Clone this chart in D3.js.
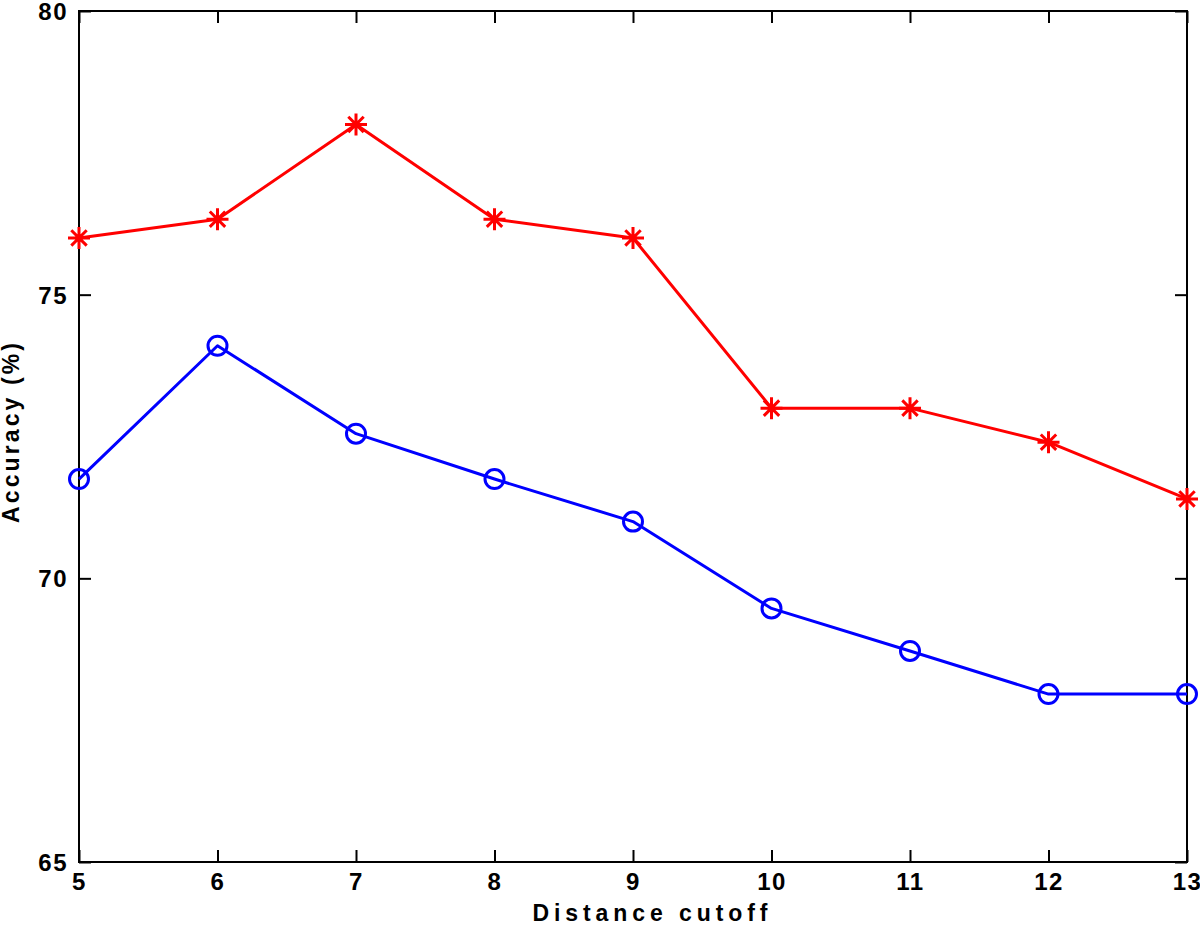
<!DOCTYPE html>
<html>
<head>
<meta charset="utf-8">
<script src="https://d3js.org/d3.v7.min.js"></script>
<style>
  html, body { margin: 0; padding: 0; background: #fff; }
  svg text { font-family: "Liberation Sans", Arial, sans-serif; font-weight: bold; fill: #000; }
</style>
</head>
<body>
<svg id="chart" width="1200" height="925"></svg>
<script>
const cutoffs = [5, 6, 7, 8, 9, 10, 11, 12, 13];
const redSeries = [76.0, 76.33, 78.0, 76.33, 76.0, 73.0, 73.0, 72.4, 71.4];
const blueSeries = [71.75, 74.1, 72.55, 71.75, 71.0, 69.47, 68.72, 67.96, 67.96];
const xTicks = [5, 6, 7, 8, 9, 10, 11, 12, 13];
const yTicks = [65, 70, 75, 80];
const xLabel = "Distance cutoff";
const yLabel = "Accuracy (%)";

const svg = d3.select("#chart");
const L = 79, R = 1187, T = 11, B = 862;
const x = d3.scaleLinear().domain([5, 13]).range([L, R]);
const y = d3.scaleLinear().domain([65, 80]).range([B, T]);
const tickLen = 12;

// frame
svg.append("rect").attr("x", L).attr("y", T).attr("width", R - L).attr("height", B - T)
  .attr("fill", "none").attr("stroke", "#000").attr("stroke-width", 2);

// axes with inward ticks
const fmt = d3.format("d");
const axB = svg.append("g").attr("transform", `translate(0,${B})`)
  .call(d3.axisBottom(x).tickValues(xTicks).tickFormat(fmt).tickSizeInner(-tickLen).tickSizeOuter(0).tickPadding(11));
const axT = svg.append("g").attr("transform", `translate(0,${T})`)
  .call(d3.axisTop(x).tickValues(xTicks).tickFormat("").tickSizeInner(-tickLen).tickSizeOuter(0));
const axL = svg.append("g").attr("transform", `translate(${L},0)`)
  .call(d3.axisLeft(y).tickValues(yTicks).tickFormat(fmt).tickSizeInner(-tickLen).tickSizeOuter(0).tickPadding(11));
const axRt = svg.append("g").attr("transform", `translate(${R},0)`)
  .call(d3.axisRight(y).tickValues(yTicks).tickFormat("").tickSizeInner(-tickLen).tickSizeOuter(0));
[axB, axT, axL, axRt].forEach(g => {
  g.select(".domain").remove();
  g.selectAll(".tick line").attr("stroke", "#000").attr("stroke-width", 2);
  g.selectAll("text").attr("font-size", 24).style("letter-spacing", "1.5px")
    .attr("font-family", "'Liberation Sans', Arial, sans-serif").attr("font-weight", "bold").attr("fill", "#000");
});
axB.selectAll("text").attr("dy", "0.71em");
axL.selectAll("text").attr("dy", "0.36em");

// lines
const line = d3.line().x((d, i) => x(cutoffs[i])).y(d => y(d));
svg.append("path").datum(redSeries).attr("d", line)
  .attr("fill", "none").attr("stroke", "#ff0000").attr("stroke-width", 3).attr("stroke-linejoin", "round");
svg.append("path").datum(blueSeries).attr("d", line)
  .attr("fill", "none").attr("stroke", "#0000ff").attr("stroke-width", 3).attr("stroke-linejoin", "round");

// red asterisk markers
const s = 11;
const star = `M${-s},0L${s},0M0,${-s}L0,${s}M${-s*0.7},${-s*0.7}L${s*0.7},${s*0.7}M${-s*0.7},${s*0.7}L${s*0.7},${-s*0.7}`;
svg.append("g").selectAll("path").data(redSeries).join("path")
  .attr("transform", (d, i) => `translate(${x(cutoffs[i])},${y(d)})`)
  .attr("d", star).attr("fill", "none").attr("stroke", "#ff0000").attr("stroke-width", 3);

// blue circle markers
svg.append("g").selectAll("circle").data(blueSeries).join("circle")
  .attr("cx", (d, i) => x(cutoffs[i])).attr("cy", d => y(d)).attr("r", 9.5)
  .attr("fill", "none").attr("stroke", "#0000ff").attr("stroke-width", 3);

// labels
svg.append("text").attr("x", (L + R) / 2 + 17).attr("y", 921).attr("text-anchor", "middle")
  .attr("font-size", 23).attr("textLength", 235).attr("lengthAdjust", "spacing").text(xLabel);
svg.append("text").attr("transform", `translate(19,433) rotate(-90)`).attr("text-anchor", "middle")
  .attr("font-size", 23).attr("textLength", 180).attr("lengthAdjust", "spacing").text(yLabel);
</script>
</body>
</html>
